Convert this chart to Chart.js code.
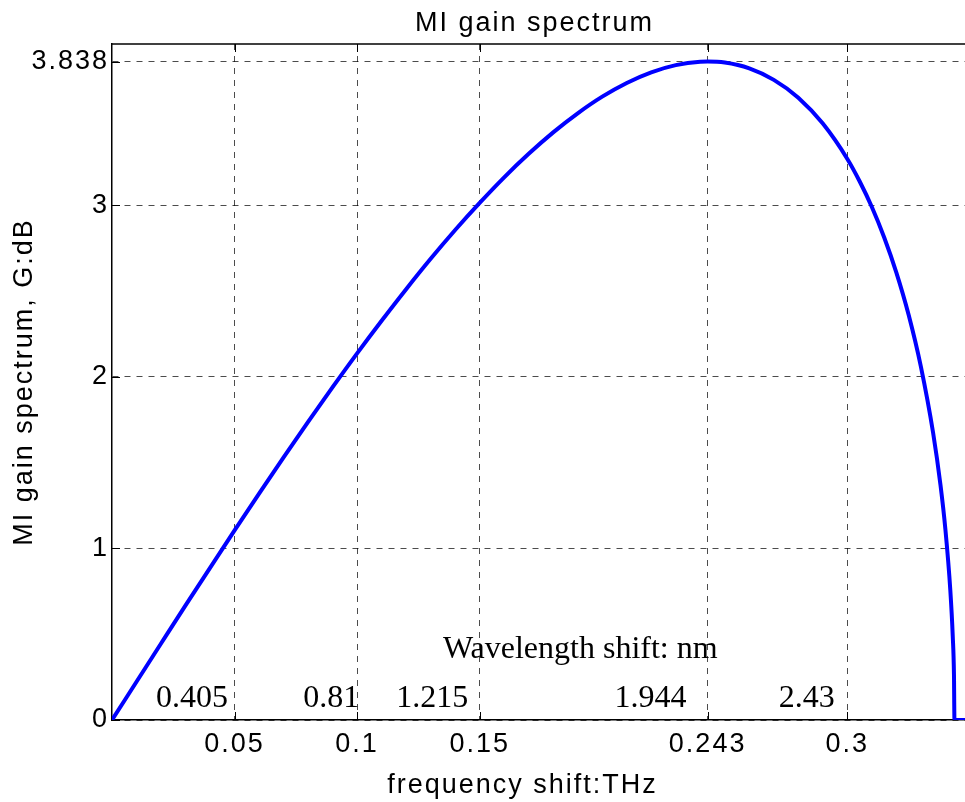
<!DOCTYPE html>
<html>
<head>
<meta charset="utf-8">
<title>MI gain spectrum</title>
<script src="https://cdn.jsdelivr.net/npm/chart.js@4.4.1/dist/chart.umd.min.js"></script>
<style>
  html, body { margin: 0; padding: 0; background: #fff; }
  #wrap { width: 965px; height: 802px; position: relative; }
</style>
</head>
<body>
<div id="wrap"><canvas id="miChart"></canvas></div>
<script>
// values
const freqTHz = [0, 0.01, 0.02, 0.03, 0.04, 0.05, 0.06, 0.07, 0.08, 0.09,
  0.10, 0.11, 0.12, 0.13, 0.14, 0.15, 0.16, 0.17, 0.18, 0.19,
  0.20, 0.21, 0.22, 0.23, 0.24, 0.243, 0.25, 0.26, 0.27, 0.28,
  0.29, 0.30, 0.305, 0.31, 0.315, 0.32, 0.325, 0.33, 0.335, 0.338,
  0.340, 0.342, 0.343, 0.3435, 0.3437, 0.348];
const gainDB = [0, 0.223, 0.446, 0.668, 0.887, 1.105, 1.320, 1.531, 1.738, 1.940,
  2.137, 2.327, 2.511, 2.688, 2.856, 3.014, 3.163, 3.300, 3.425, 3.536,
  3.633, 3.713, 3.775, 3.817, 3.837, 3.838, 3.832, 3.798, 3.731, 3.627,
  3.476, 3.270, 3.140, 2.990, 2.814, 2.608, 2.362, 2.060, 1.673, 1.369,
  1.111, 0.759, 0.489, 0.264, 0, 0];

const freqTicks = [0.05, 0.1, 0.15, 0.243, 0.3];
const gainTicks = [0, 1, 2, 3, 3.838];

// wavelength shift (nm) written inside the axes
const waveTitle = 'Wavelength shift: nm';
const waveLabels = ['0.405', '0.81', '1.215', '1.944', '2.43'];
const waveLabelFreq = [0.018, 0.078, 0.116, 0.205, 0.272];
const waveLabelGain = 0.076;
const waveTitleAt = [0.135, 0.36];

const sansFont = "'Liberation Sans', Arial, Helvetica, sans-serif";
const serifFont = "'Liberation Serif', 'Times New Roman', serif";

const matlabAxes = {
  id: 'matlabAxes',
  beforeDraw(chart) {
    chart.ctx.letterSpacing = '2px';
  },
  afterDraw(chart) {
    const { ctx, chartArea: a, scales: { x, y } } = chart;
    const mid = (a.left + a.right) / 2;
    ctx.save();
    // top box line
    ctx.strokeStyle = '#000';
    ctx.lineWidth = 1.5;
    ctx.beginPath();
    ctx.moveTo(a.left, a.top);
    ctx.lineTo(a.right, a.top);
    ctx.stroke();

    // inward tick marks
    ctx.lineWidth = 1;
    ctx.beginPath();
    freqTicks.forEach(v => {
      const px = Math.round(x.getPixelForValue(v)) + 0.5;
      ctx.moveTo(px, a.bottom);
      ctx.lineTo(px, a.bottom - 8);
      ctx.moveTo(px, a.top);
      ctx.lineTo(px, a.top + 8);
    });
    gainTicks.forEach(v => {
      const py = Math.round(y.getPixelForValue(v)) + 0.5;
      ctx.moveTo(a.left, py);
      ctx.lineTo(a.left + 8, py);
    });
    ctx.stroke();

    // title and x label
    ctx.fillStyle = '#000';
    ctx.font = '27px ' + sansFont;
    ctx.textAlign = 'center';
    ctx.textBaseline = 'alphabetic';
    ctx.fillText('MI gain spectrum', mid - 4, 31);
    ctx.fillText('frequency shift:THz', mid - 16, 793);

    // wavelength annotations
    ctx.letterSpacing = '0px';
    ctx.font = '32px ' + serifFont;
    ctx.textAlign = 'left';
    ctx.fillText(waveTitle, x.getPixelForValue(waveTitleAt[0]), y.getPixelForValue(waveTitleAt[1]));
    waveLabels.forEach((t, i) => {
      ctx.fillText(t, x.getPixelForValue(waveLabelFreq[i]), y.getPixelForValue(waveLabelGain));
    });
    ctx.restore();
  }
};

const tickFont = { family: sansFont, size: 27, weight: 'normal' };

new Chart(document.getElementById('miChart'), {
  type: 'line',
  data: {
    datasets: [{
      data: freqTHz.map((f, i) => ({ x: f, y: gainDB[i] })),
      borderColor: '#0000ff',
      borderWidth: 4,
      pointRadius: 0,
      cubicInterpolationMode: 'monotone',
      fill: false
    }]
  },
  options: {
    responsive: true,
    maintainAspectRatio: false,
    animation: false,
    layout: { padding: { top: 44, right: 0, bottom: 0, left: 0 } },
    plugins: {
      legend: { display: false },
      tooltip: { enabled: false }
    },
    scales: {
      x: {
        type: 'linear',
        min: 0,
        max: 0.348,
        afterBuildTicks: s => { s.ticks = freqTicks.map(v => ({ value: v })); },
        afterFit: s => { s.height = 82; },
        ticks: {
          callback: v => String(v),
          color: '#000',
          font: tickFont,
          padding: 8,
          maxRotation: 0,
          autoSkip: false
        },
        grid: { color: 'rgba(0,0,0,0.7)', lineWidth: 1, drawTicks: false },
        border: { display: true, color: '#000', width: 1.5, dash: [6, 6] }
      },
      y: {
        type: 'linear',
        min: 0,
        max: 3.94,
        afterBuildTicks: s => { s.ticks = gainTicks.map(v => ({ value: v })); },
        afterFit: s => { s.width = 112; },
        ticks: {
          callback: v => String(v),
          color: '#000',
          font: tickFont,
          padding: 3
        },
        grid: { color: 'rgba(0,0,0,0.7)', lineWidth: 1, drawTicks: false },
        border: { display: true, color: '#000', width: 1.5, dash: [6, 6] },
        title: {
          display: true,
          text: 'MI gain spectrum, G:dB',
          color: '#000',
          font: tickFont,
          padding: { top: 8, bottom: 0 }
        }
      }
    }
  },
  plugins: [matlabAxes]
});
</script>
</body>
</html>
